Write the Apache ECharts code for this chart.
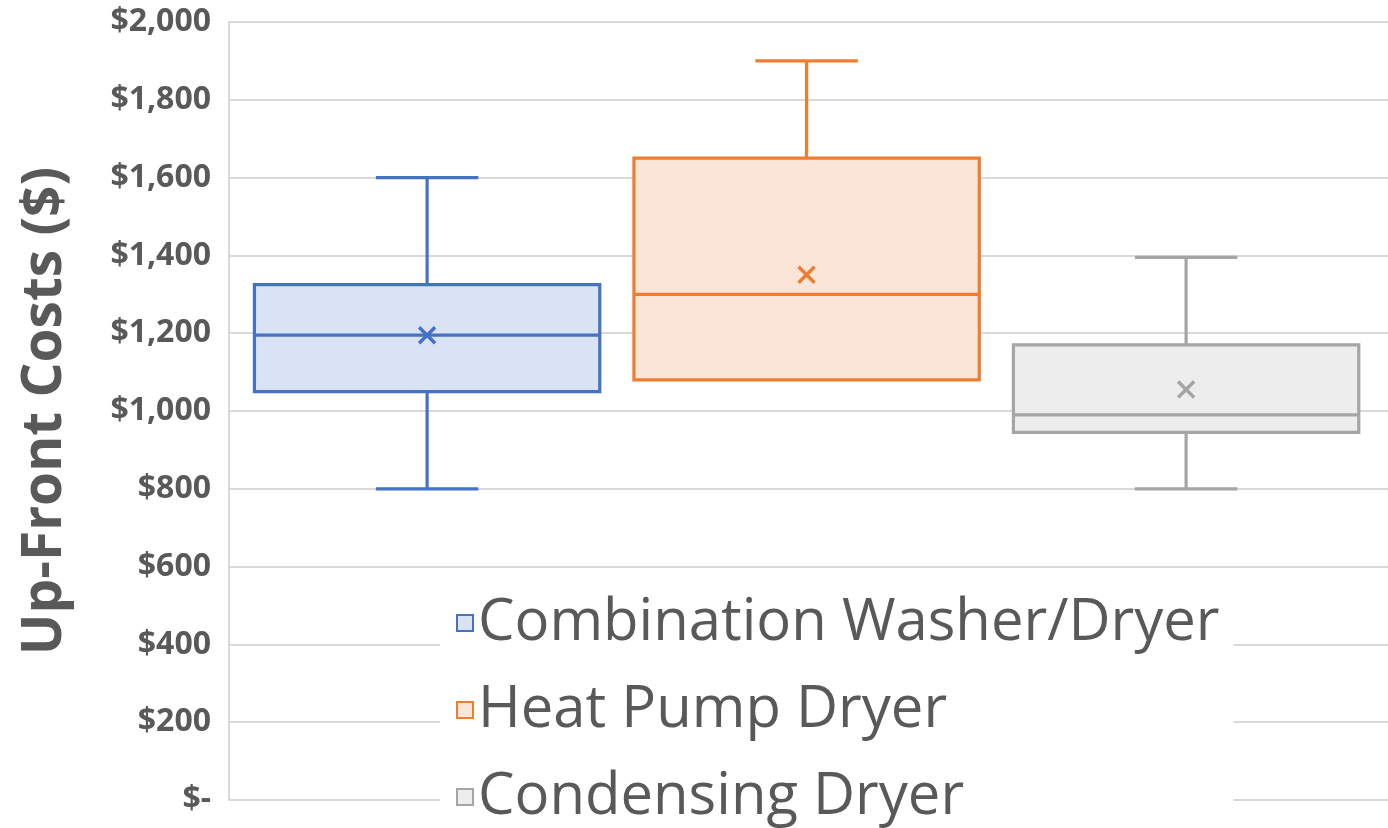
<!DOCTYPE html>
<html>
<head>
<meta charset="utf-8">
<script src="https://cdn.jsdelivr.net/npm/echarts@6/dist/echarts.min.js"></script>
<style>
  html, body { margin: 0; padding: 0; background: #fff; }
  #chart { width: 1388px; height: 828px; }
</style>
</head>
<body>
<div id="chart"></div>
<script>
// categories and box statistics
var CATEGORIES = ['Combination Washer/Dryer', 'Heat Pump Dryer', 'Condensing Dryer'];
var MINS    = [800, 1080, 800];
var Q1S     = [1050, 1080, 945];
var MEDIANS = [1195, 1300, 990];
var Q3S     = [1325, 1650, 1170];
var MAXS    = [1600, 1900, 1395];
var MEANS   = [1195, 1350, 1055];

var LINE_COLORS = ['#4472C4', '#ED7D31', '#A5A5A5'];
var FILL_COLORS = ['#DAE3F3', '#FBE5D6', '#EDEDED'];
var TEXT_COLOR = '#595959';

var BOX_W = 0.91;   // box width, in category units
var CAP_W = 0.27;   // whisker cap width

var myChart = echarts.init(document.getElementById('chart'));

function renderBox(params, api) {
    var i = api.value(0);
    var line = LINE_COLORS[i], fill = FILL_COLORS[i];
    var lo = api.coord([i, api.value(1)]);
    var q1 = api.coord([i, api.value(2)]);
    var md = api.coord([i, api.value(3)]);
    var q3 = api.coord([i, api.value(4)]);
    var hi = api.coord([i, api.value(5)]);
    var mn = api.coord([i, api.value(6)]);
    var half = api.size([BOX_W, 0])[0] / 2;
    var cap = api.size([CAP_W, 0])[0] / 2;
    var x = md[0];
    var st = { stroke: line, lineWidth: 3.2, fill: null };
    var mk = { stroke: line, lineWidth: 3.5, fill: null };
    var kids = [
        // upper whisker + cap
        { type: 'line', shape: { x1: x, y1: q3[1], x2: x, y2: hi[1] }, style: st },
        { type: 'line', shape: { x1: x - cap, y1: hi[1], x2: x + cap, y2: hi[1] }, style: st },
        // box
        { type: 'rect', shape: { x: x - half, y: q3[1], width: half * 2, height: q1[1] - q3[1] },
          style: { fill: fill, stroke: line, lineWidth: 3.2 } },
        // median
        { type: 'line', shape: { x1: x - half, y1: md[1], x2: x + half, y2: md[1] }, style: st },
        // mean marker x
        { type: 'line', shape: { x1: mn[0] - 8, y1: mn[1] - 8, x2: mn[0] + 8, y2: mn[1] + 8 }, style: mk },
        { type: 'line', shape: { x1: mn[0] - 8, y1: mn[1] + 8, x2: mn[0] + 8, y2: mn[1] - 8 }, style: mk }
    ];
    if (lo[1] > q1[1] + 1) {
        kids.push({ type: 'line', shape: { x1: x, y1: q1[1], x2: x, y2: lo[1] }, style: st });
        kids.push({ type: 'line', shape: { x1: x - cap, y1: lo[1], x2: x + cap, y2: lo[1] }, style: st });
    }
    return { type: 'group', children: kids };
}

var series = CATEGORIES.map(function (name, i) {
    return {
        name: name,
        type: 'custom',
        renderItem: renderBox,
        itemStyle: { color: LINE_COLORS[i] },
        encode: { x: 0, y: [1, 2, 3, 4, 5, 6] },
        data: [[i, MINS[i], Q1S[i], MEDIANS[i], Q3S[i], MAXS[i], MEANS[i]]],
        z: 3
    };
});

var option = {
    animation: false,
    grid: { left: 229, right: 0, top: 22, bottom: 28 },
    xAxis: {
        type: 'value',
        min: -0.522,
        max: 2.532,
        show: false,
        splitLine: { show: false }
    },
    yAxis: {
        type: 'value',
        min: 0,
        max: 2000,
        interval: 200,
        name: 'Up-Front Costs ($)',
        nameLocation: 'middle',
        nameGap: 156,
        nameTextStyle: { fontFamily: 'Open Sans', fontWeight: 'bold', fontSize: 55, color: TEXT_COLOR },
        axisLine: { show: true, onZero: false, lineStyle: { color: '#D9D9D9', width: 2 } },
        axisTick: { show: false },
        splitLine: { lineStyle: { color: '#D9D9D9', width: 2 } },
        axisLabel: {
            margin: 18,
            fontFamily: 'Open Sans',
            fontWeight: 'bold',
            fontSize: 32,
            color: TEXT_COLOR,
            formatter: function (v) {
                return v === 0 ? '$-' : '$' + v.toLocaleString('en-US');
            }
        }
    },
    legend: {
        orient: 'vertical',
        left: 440,
        top: 585,
        backgroundColor: '#fff',
        padding: [8, 14, 0, 16],
        itemGap: 27,
        itemWidth: 16,
        itemHeight: 16,
        icon: 'rect',
        textStyle: { fontFamily: 'Open Sans', fontSize: 58, color: TEXT_COLOR, lineHeight: 60 },
        data: CATEGORIES.map(function (name, i) {
            return { name: name, itemStyle: { color: FILL_COLORS[i], borderColor: LINE_COLORS[i], borderWidth: 2 } };
        }),
        z: 10
    },
    series: series
};
myChart.setOption(option);
</script>
</body>
</html>
